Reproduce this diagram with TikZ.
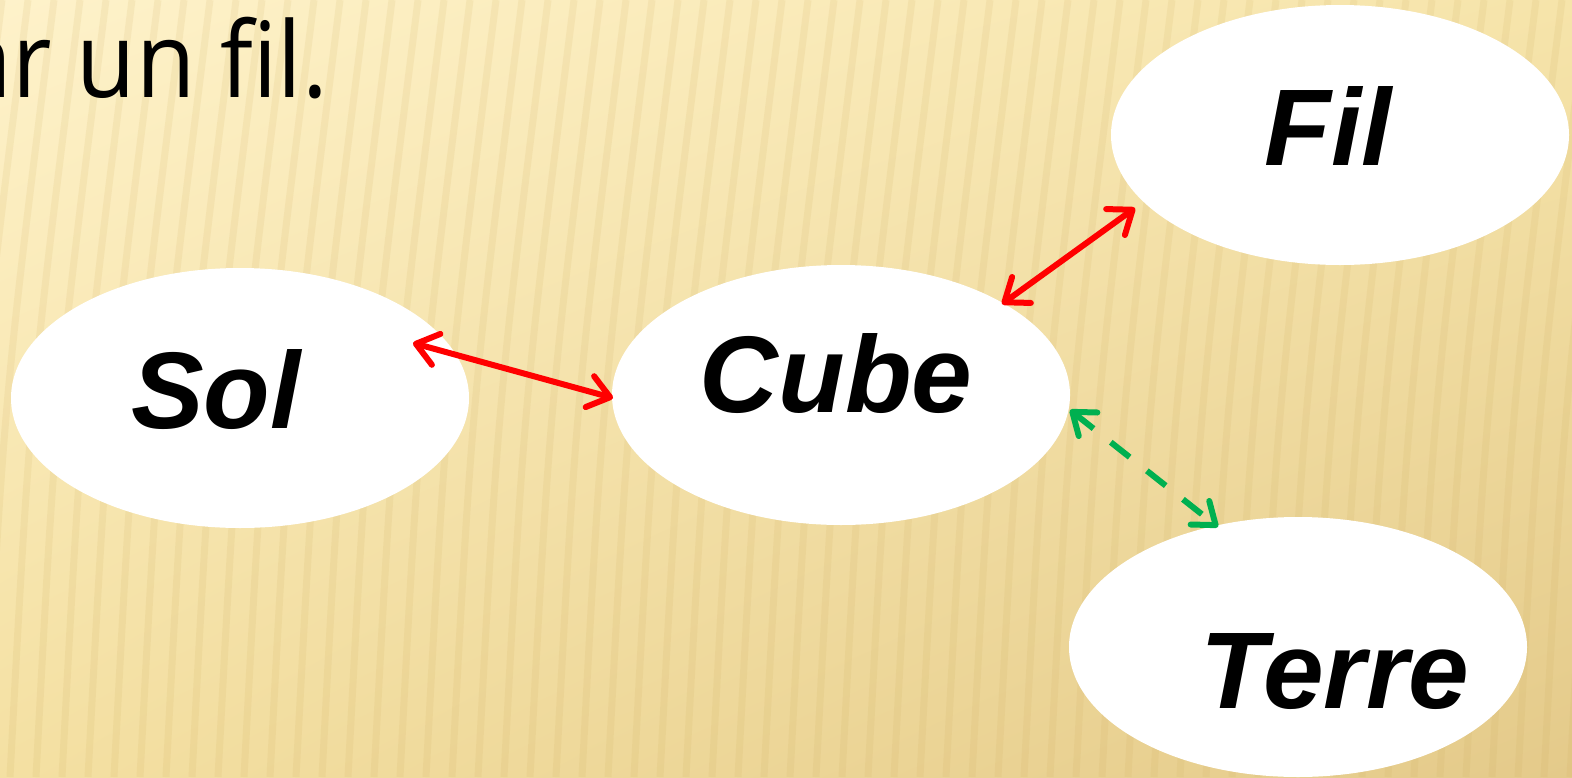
\documentclass[tikz,border=0pt]{standalone}
\usepackage{fontspec}
\newfontfamily\lsans{Liberation Sans}
\newfontfamily\osans{Open Sans}
\usetikzlibrary{arrows.meta,calc,shadings,shapes.geometric}
\definecolor{bgTL}{RGB}{254,242,202}
\definecolor{bgTR}{RGB}{246,228,170}
\definecolor{bgBL}{RGB}{244,224,162}
\definecolor{bgBR}{RGB}{228,202,138}
\definecolor{stripe}{RGB}{205,170,90}
\definecolor{arrred}{RGB}{255,0,0}
\definecolor{arrgreen}{RGB}{0,176,80}
\tikzset{
  bubble/.style={ellipse, fill=white, minimum width=458pt, minimum height=260pt, inner sep=0pt},
  wordlbl/.style={anchor=base, font=\lsans\bfseries\itshape\fontsize{109}{120}\selectfont, inner sep=0pt},
  barb/.style={Straight Barb[length=21pt,width=32pt,round]},
  link/.style={line width=6pt, arrred, {Straight Barb[length=21pt,width=32pt,round]}-{Straight Barb[length=21pt,width=32pt,round]}},
  glink/.style={line width=6pt, arrgreen, dash pattern=on 24pt off 22pt, {Straight Barb[length=20pt,width=30pt,round]}-{Straight Barb[length=20pt,width=30pt,round]}},
}
\begin{document}
\begin{tikzpicture}[x=1pt,y=-1pt]
\useasboundingbox (0,0) rectangle (1572,777);
\clip (0,0) rectangle (1572,777);
\shade[upper left=bgTL, upper right=bgTR, lower left=bgBL, lower right=bgBR] (0,0) rectangle (1572,777);
\foreach \x in {-120,-94,...,1700} {
  \draw[stripe, opacity=0.13, line width=7pt] (\x,777) .. controls (\x+20,400) .. (\x+70,0);
}
\node[anchor=base east, font=\osans\fontsize{105}{115}\selectfont, inner sep=0pt] (title) at (328,97) {\scalebox{0.92}[1]{ar un fil.}};
\node[bubble] (sol) at (240,398) {};
\node[bubble] (cube) at (841,395) {};
\node[bubble] (fil) at (1340,135) {};
\node[bubble] (terre) at (1298,647) {};
\node[wordlbl] (tsol) at (216,428) {Sol};
\node[wordlbl] (tcube) at (836,412) {Cube};
\node[wordlbl] (tfil) at (1328,165) {Fil};
\node[wordlbl] (tterre) at (1335,708) {Terre};
\coordinate (a) at ($(sol)+(173,-55)$);
\coordinate (b) at ($(cube)+(-228,3)$);
\coordinate (c) at ($(cube)+(161,-91)$);
\coordinate (d) at ($(fil)+(-205,73)$);
\coordinate (e) at ($(cube)+(229,15)$);
\coordinate (f) at ($(terre)+(-80,-120)$);
\draw[link] (a) -- (b);
\draw[link] (c) -- (d);
\draw[glink] (e) -- (f);
\end{tikzpicture}
\end{document}
